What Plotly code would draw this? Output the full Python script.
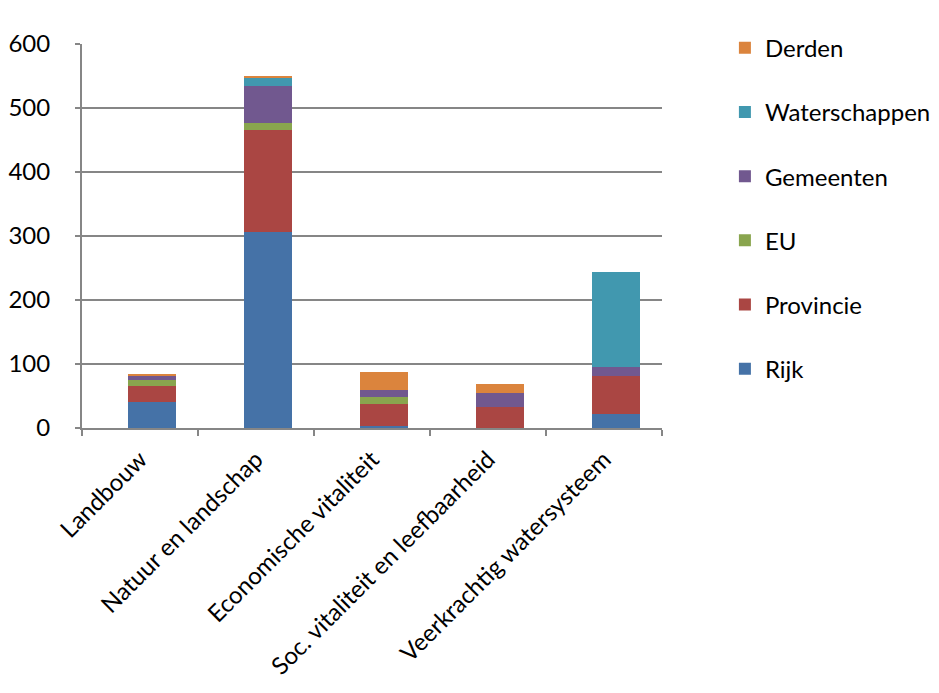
import plotly.graph_objects as go

categories = ["Landbouw", "Natuur en landschap", "Economische vitaliteit",
              "Soc. vitaliteit en leefbaarheid", "Veerkrachtig watersysteem"]
series_names = ["Rijk", "Provincie", "EU", "Gemeenten", "Waterschappen", "Derden"]
rijk = [40, 307, 3, 0, 22]
provincie = [26, 159, 34, 33, 59]
eu = [9, 11, 11, 0, 0]
gemeenten = [7, 57, 12, 21, 15]
waterschappen = [0, 14, 0, 0, 147]
derden = [3, 1, 28, 15, 0]
y_ticks = [0, 100, 200, 300, 400, 500, 600]

values = [rijk, provincie, eu, gemeenten, waterschappen, derden]
colors = ["#4572A7", "#AA4643", "#89A54E", "#71588F", "#4198AF", "#DB843D"]

FONT = "Lato"
fig = go.Figure()
n = len(series_names)
for i, (name, vals, col) in enumerate(zip(series_names, values, colors)):
    fig.add_trace(go.Bar(
        x=categories, y=vals, name=name, legendgroup=name,
        legendrank=n - i,
        marker=dict(color=col, line=dict(width=0)),
        width=0.41, offset=-0.1,
    ))

fig.update_layout(
    barmode="stack",
    width=939, height=693,
    margin=dict(l=0, r=0, t=0, b=0, autoexpand=False),
    paper_bgcolor="white", plot_bgcolor="white",
    font=dict(family=FONT, size=24, color="#000000"),
    showlegend=True,
    legend=dict(
        traceorder="grouped", tracegroupgap=30,
        x=0.772, xanchor="left", y=0.963, yanchor="top",
        font=dict(family=FONT, size=24),
        itemwidth=30,
    ),
    xaxis=dict(
        domain=[82 / 939, 662 / 939],
        automargin=False,
        tickangle=-45,
        showline=True, linecolor="#868686", linewidth=2,
        ticks="outside", tickson="boundaries", ticklen=6,
        tickcolor="#868686", tickwidth=2,
        ticklabelstandoff=6,
        showgrid=False,
        tickfont=dict(family=FONT, size=24),
    ),
    yaxis=dict(
        domain=[(693 - 428) / 693, (693 - 44) / 693],
        automargin=False,
        range=[0, 600], tickvals=y_ticks,
        showline=True, linecolor="#868686", linewidth=2,
        ticks="outside", ticklen=5, tickcolor="#868686", tickwidth=2,
        showgrid=True, gridcolor="#868686", gridwidth=2,
        zeroline=False,
        ticklabelstandoff=20,
        tickfont=dict(family=FONT, size=24),
    ),
)

fig.write_html("out.html")
